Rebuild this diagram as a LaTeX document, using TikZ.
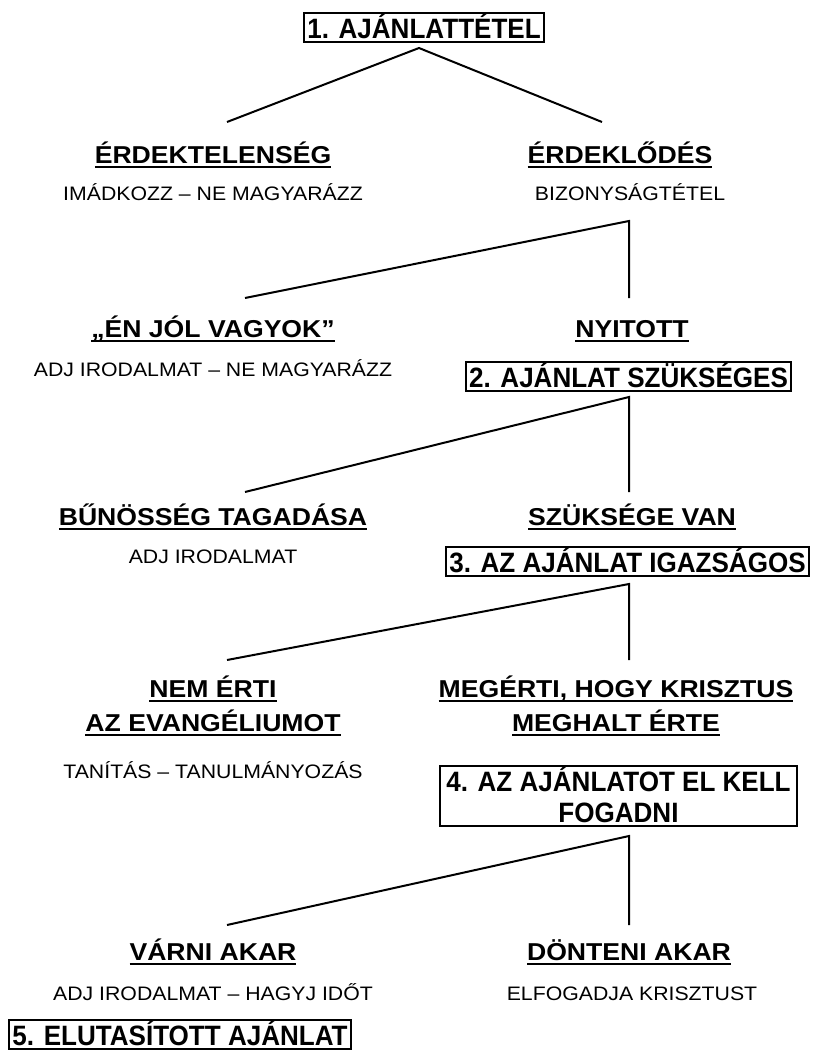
\documentclass[tikz,border=0pt]{standalone}
\usepackage{fontspec}
\setmainfont{Liberation Sans}
\newfontfamily\headfont{Liberation Sans}[FakeStretch=1.09]
\newfontfamily\boxfont{Liberation Sans}[FakeStretch=0.93]
\newcommand\ulx[1]{\setbox0\hbox{#1}\rlap{\rule[-4.5pt]{\wd0}{2pt}}\box0}
\tikzset{
  head/.style={font=\headfont\fontsize{24.4}{34}\selectfont\bfseries, inner sep=0pt, align=center, anchor=base},
  sub/.style={font=\headfont\fontsize{19.5}{26}\selectfont, inner sep=0pt, anchor=base},
  stepbox/.style={draw, line width=2pt, font=\boxfont\fontsize{28}{31}\selectfont\bfseries, inner xsep=3pt, inner ysep=2pt, text height=23pt, text depth=2pt, align=center, anchor=base},
  conn/.style={line width=2pt}
}
\begin{document}
\begin{tikzpicture}[x=1pt,y=-1pt]
\useasboundingbox (0,0) rectangle (814,1053);
% level 1
\node[stepbox] (b1) at (424,38.3) {1. AJÁNLATTÉTEL};
\coordinate (a1) at (419,48);
\coordinate (l1) at (227,122);
\coordinate (r1) at (602,122);
\draw[conn] (l1) -- (a1) -- (r1);
\node[head] (h1l) at (213,163) {\ulx{ÉRDEKTELENSÉG}};
\node[head] (h1r) at (620,163) {\ulx{ÉRDEKLŐDÉS}};
\node[sub] (s1l) at (213,200) {IMÁDKOZZ – NE MAGYARÁZZ};
\node[sub] (s1r) at (630,200) {BIZONYSÁGTÉTEL};
% level 2
\coordinate (a2) at (629,221);
\coordinate (l2) at (245,298);
\coordinate (r2) at (629,298);
\draw[conn] (l2) -- (a2) -- (r2);
\node[head] (h2l) at (213,337) {\ulx{„ÉN JÓL VAGYOK”}};
\node[head] (h2r) at (632,337) {\ulx{NYITOTT}};
\node[sub] (s2l) at (213,376) {ADJ IRODALMAT – NE MAGYARÁZZ};
\node[stepbox] (b2) at (628.5,387) {2. AJÁNLAT SZÜKSÉGES};
% level 3
\coordinate (a3) at (629,397);
\coordinate (l3) at (245,492);
\coordinate (r3) at (629,492);
\draw[conn] (l3) -- (a3) -- (r3);
\node[head] (h3l) at (213,525) {\ulx{BŰNÖSSÉG TAGADÁSA}};
\node[head] (h3r) at (632,525) {\ulx{SZÜKSÉGE VAN}};
\node[sub] (s3l) at (213,563) {ADJ IRODALMAT};
\node[stepbox] (b3) at (627.5,572) {3. AZ AJÁNLAT IGAZSÁGOS};
% level 4
\coordinate (a4) at (629,584);
\coordinate (l4) at (227,660);
\coordinate (r4) at (629,660);
\draw[conn] (l4) -- (a4) -- (r4);
\node[head] (h4l) at (213,731) {\ulx{NEM ÉRTI}\\\ulx{AZ EVANGÉLIUMOT}};
\node[head] (h4r) at (616,731) {\ulx{MEGÉRTI, HOGY KRISZTUS}\\\ulx{MEGHALT ÉRTE}};
\node[stepbox, text height=54pt, inner xsep=6.5pt] (b4) at (618.5,822) {4. AZ AJÁNLATOT EL KELL\\FOGADNI};
\node[sub] (s4l) at (213,778) {TANÍTÁS – TANULMÁNYOZÁS};
% level 5
\coordinate (a5) at (629,836);
\coordinate (l5) at (227,925);
\coordinate (r5) at (629,925);
\draw[conn] (l5) -- (a5) -- (r5);
\node[head] (h5l) at (213,960) {\ulx{VÁRNI AKAR}};
\node[head] (h5r) at (629,960) {\ulx{DÖNTENI AKAR}};
\node[sub] (s5l) at (213,1000) {ADJ IRODALMAT – HAGYJ IDŐT};
\node[sub] (s5r) at (632,1000) {ELFOGADJA KRISZTUST};
\node[stepbox] (b5) at (180,1045) {5. ELUTASÍTOTT AJÁNLAT};
\end{tikzpicture}
\end{document}
